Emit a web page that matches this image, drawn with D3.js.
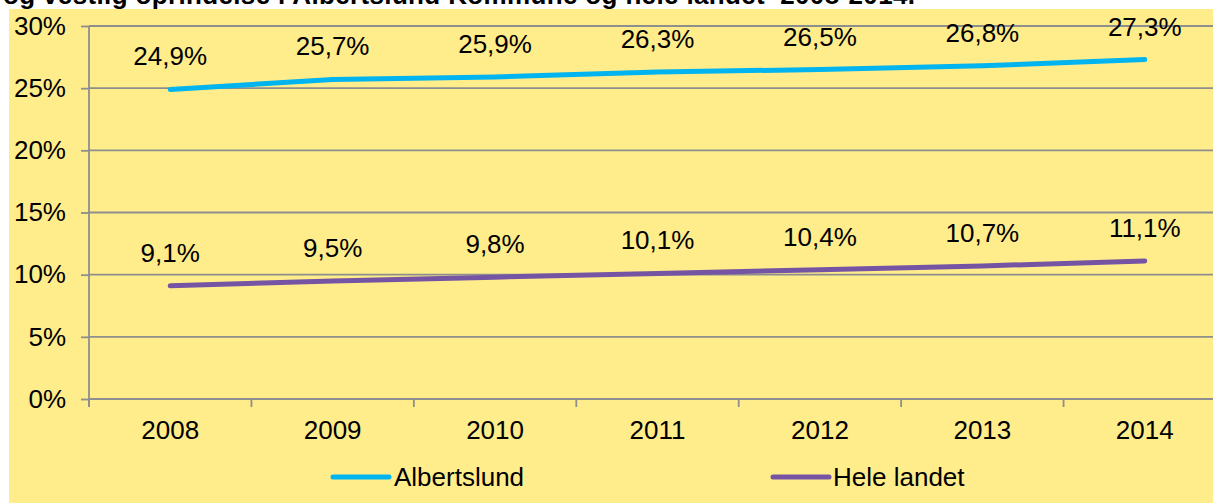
<!DOCTYPE html>
<html>
<head>
<meta charset="utf-8">
<script src="https://cdn.jsdelivr.net/npm/d3@7"></script>
<style>
  html, body { margin: 0; padding: 0; background: #ffffff; }
  svg { display: block; }
  text { font-family: "Liberation Sans", Arial, sans-serif; }
</style>
</head>
<body>
<svg id="chart" width="1213" height="503"></svg>
<script>
// ---- data ----
const titleText = "og vestlig oprindelse i Albertslund Kommune og hele landet  2008-2014.";
const years = ["2008", "2009", "2010", "2011", "2012", "2013", "2014"];
const albertslund = [24.9, 25.7, 25.9, 26.3, 26.5, 26.8, 27.3];
const heleLandet = [9.1, 9.5, 9.8, 10.1, 10.4, 10.7, 11.1];
const yTicks = [0, 5, 10, 15, 20, 25, 30];
const seriesNames = ["Albertslund", "Hele landet"];
const seriesColors = ["#00B4EF", "#7654A4"];

// ---- layout ----
const W = 1213, H = 503;
const panel = { x: 9, y: 9 };
const plot = { left: 89, right: 1226, top: 26, bottom: 399 };
const fontSize = 26;
const gridColor = "#8E8E8E";

const svg = d3.select("#chart");

// title (partly hidden behind the chart panel, as in the source)
svg.append("text")
  .attr("x", 3).attr("y", 4)
  .attr("font-size", fontSize).attr("font-weight", "bold")
  .attr("fill", "#000")
  .attr("textLength", 912).attr("lengthAdjust", "spacing")
  .attr("xml:space", "preserve")
  .style("white-space", "pre")
  .text(titleText);

// chart panel
svg.append("rect")
  .attr("x", panel.x).attr("y", panel.y)
  .attr("width", W - panel.x).attr("height", H - panel.y)
  .attr("fill", "#FFEC8B");

const x = d3.scaleBand().domain(years).range([plot.left, plot.right]).padding(0);
const y = d3.scaleLinear().domain([0, 30]).range([plot.bottom, plot.top]);
const cx = d => x(d) + x.bandwidth() / 2;

// gridlines
svg.append("g").selectAll("line")
  .data(yTicks)
  .join("line")
  .attr("x1", plot.left).attr("x2", plot.right)
  .attr("y1", d => y(d)).attr("y2", d => y(d))
  .attr("stroke", gridColor).attr("stroke-width", 1.8);

// y axis
const yAxis = d3.axisLeft(y).tickValues(yTicks).tickFormat(d => d + "%")
  .tickSize(8).tickPadding(15);
const gy = svg.append("g").attr("transform", `translate(${plot.left},0)`).call(yAxis);
gy.select(".domain").remove();
gy.selectAll(".tick line").attr("stroke", gridColor).attr("stroke-width", 1.8);
gy.selectAll(".tick text").attr("font-size", fontSize).attr("fill", "#000")
  .attr("font-family", "Liberation Sans, Arial, sans-serif");
svg.append("line")
  .attr("x1", plot.left).attr("x2", plot.left)
  .attr("y1", plot.top).attr("y2", plot.bottom + 8)
  .attr("stroke", gridColor).attr("stroke-width", 1.8);

// x axis
const xAxis = d3.axisBottom(x).tickSize(0).tickPadding(22);
const gx = svg.append("g").attr("transform", `translate(0,${plot.bottom})`).call(xAxis);
gx.select(".domain").remove();
gx.selectAll(".tick text").attr("font-size", fontSize).attr("fill", "#000")
  .attr("font-family", "Liberation Sans, Arial, sans-serif");
const boundaries = years.map(d => x(d)).concat([x.range()[1]]);
svg.append("g").selectAll("line")
  .data(boundaries)
  .join("line")
  .attr("x1", d => d).attr("x2", d => d)
  .attr("y1", plot.bottom).attr("y2", plot.bottom + 8)
  .attr("stroke", gridColor).attr("stroke-width", 1.8);

// lines + labels
const fmt = v => d3.format(".1f")(v).replace(".", ",") + "%";
const line = d3.line().x((d, i) => cx(years[i])).y(d => y(d));
[albertslund, heleLandet].forEach((vals, si) => {
  svg.append("path")
    .datum(vals)
    .attr("d", line)
    .attr("fill", "none")
    .attr("stroke", seriesColors[si])
    .attr("stroke-width", 5)
    .attr("stroke-linecap", "round")
    .attr("stroke-linejoin", "round");
  svg.append("g").selectAll("text")
    .data(vals)
    .join("text")
    .attr("x", (d, i) => cx(years[i]))
    .attr("y", d => y(d) - 24)
    .attr("text-anchor", "middle")
    .attr("font-size", fontSize)
    .attr("fill", "#000")
    .text(d => fmt(d));
});

// legend
const legendItems = [
  { x1: 333, x2: 389, tx: 394 },
  { x1: 773, x2: 829, tx: 833 }
];
const legendY = 477;
legendItems.forEach((it, i) => {
  svg.append("line")
    .attr("x1", it.x1).attr("x2", it.x2)
    .attr("y1", legendY).attr("y2", legendY)
    .attr("stroke", seriesColors[i]).attr("stroke-width", 5)
    .attr("stroke-linecap", "round");
  svg.append("text")
    .attr("x", it.tx).attr("y", legendY + 9)
    .attr("font-size", fontSize).attr("fill", "#000")
    .text(seriesNames[i]);
});
</script>
</body>
</html>
